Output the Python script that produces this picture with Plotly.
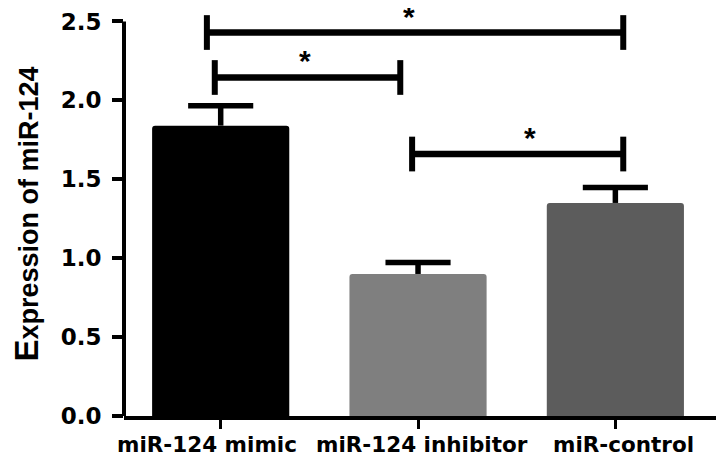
import plotly.graph_objects as go

categories = ["miR-124 mimic", "miR-124 inhibitor", "miR-control"]
means = [1.84, 0.90, 1.35]
errors = [0.126, 0.073, 0.098]
bar_colors = ["#000000", "#7f7f7f", "#5c5c5c"]

# significance brackets: (left x, right x, height, star x)
bracket_left = [-0.07, -0.03, 0.97]
bracket_right = [2.04, 0.91, 2.04]
bracket_y = [2.43, 2.145, 1.66]
star_x = [0.953, 0.426, 1.569]
bracket_text = ["*", "*", "*"]

y_ticks = [0.0, 0.5, 1.0, 1.5, 2.0, 2.5]

# style: horizontal pixel nudges of the category labels
label_nudge = [-14, 4, 8]

BAR_W = 0.695
CAP_HALF = 0.165
END_HALF = 0.11

fig = go.Figure()
fig.add_trace(go.Bar(
    x=list(range(len(categories))),
    y=means,
    width=BAR_W,
    marker=dict(color=bar_colors, line=dict(width=0), cornerradius=3),
    showlegend=False,
    hoverinfo="y",
))

shapes = []
# y axis line from 0 to the top tick
shapes.append(dict(type="line", xref="paper", yref="y", x0=0, x1=0,
                   y0=0, y1=y_ticks[-1], line=dict(color="black", width=4)))
# upward error bars (stem + cap)
for i, (m, e) in enumerate(zip(means, errors)):
    shapes.append(dict(type="line", xref="x", yref="y", x0=i, x1=i, y0=m, y1=m + e,
                       line=dict(color="black", width=5.5)))
    shapes.append(dict(type="line", xref="x", yref="y", x0=i - CAP_HALF, x1=i + CAP_HALF,
                       y0=m + e, y1=m + e, line=dict(color="black", width=5.5)))

annotations = []
for xl, xr, yb, sx, t in zip(bracket_left, bracket_right, bracket_y, star_x, bracket_text):
    shapes.append(dict(type="line", xref="x", yref="y", x0=xl, x1=xr, y0=yb, y1=yb,
                       line=dict(color="black", width=6.5)))
    for xe in (xl, xr):
        shapes.append(dict(type="line", xref="x", yref="y", x0=xe, x1=xe,
                           y0=yb - END_HALF, y1=yb + END_HALF,
                           line=dict(color="black", width=6)))
    annotations.append(dict(x=sx, y=yb, xref="x", yref="y", text="<b>%s</b>" % t,
                            showarrow=False, yanchor="bottom", yshift=-2,
                            font=dict(family="Liberation Sans", size=30, color="black")))

# category labels
for i, (c, nudge) in enumerate(zip(categories, label_nudge)):
    annotations.append(dict(x=i, y=0, xref="x", yref="paper", text="<b>%s</b>" % c,
                            showarrow=False, yanchor="top", xanchor="center",
                            xshift=nudge, yshift=-14,
                            font=dict(family="DejaVu Sans", size=21.5, color="black")))

fig.update_layout(
    width=724, height=462,
    margin=dict(l=116, r=16, t=4, b=54),
    paper_bgcolor="white", plot_bgcolor="white",
    shapes=shapes, annotations=annotations,
    font=dict(family="DejaVu Sans", color="black"),
    xaxis=dict(
        range=[-0.49, 2.51],
        tickvals=list(range(len(categories))),
        showticklabels=False,
        showline=True, linecolor="black", linewidth=4,
        ticks="outside", ticklen=9, tickwidth=3, tickcolor="black",
        showgrid=False, zeroline=False, automargin=False,
    ),
    yaxis=dict(
        range=[0, 2.56],
        tickvals=y_ticks,
        ticktext=["<b>%.1f</b>" % v for v in y_ticks],
        tickfont=dict(size=23, family="DejaVu Sans"),
        showline=False,
        ticks="outside", ticklen=11, tickwidth=4, tickcolor="black",
        ticklabelstandoff=6,
        showgrid=False, zeroline=False, automargin=False,
        title=dict(text="<b><span style='font-size:33px'>E</span>xpression of miR-124</b>",
                   font=dict(size=27, family="Liberation Sans"), standoff=26),
    ),
)

fig.write_html("out.html")
